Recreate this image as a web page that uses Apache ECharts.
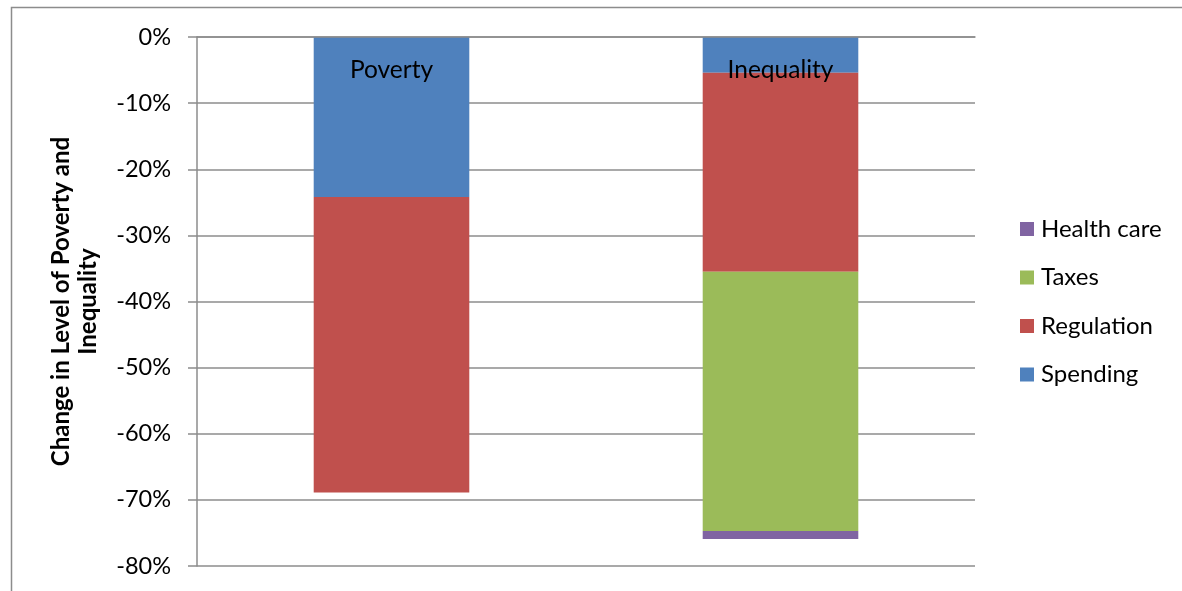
<!DOCTYPE html>
<html>
<head>
<meta charset="utf-8">
<script src="https://cdn.jsdelivr.net/npm/echarts@6/dist/echarts.min.js"></script>
<style>
html,body{margin:0;padding:0;background:#fff;}
#chart{width:1182px;height:591px;}
</style>
</head>
<body>
<div id="chart"></div>
<script>
// Data (values in %)
var categories = ['Poverty', 'Inequality'];
var spending   = [-24.2, -5.4];
var regulation = [-44.7, -30.1];
var taxes      = [0, -39.2];
var healthCare = [0, -1.2];
var yTicks = { min: -80, max: 0, interval: 10 };
var legendOrder = ['Health care', 'Taxes', 'Regulation', 'Spending'];

var FONT = 'Lato, "Open Sans", sans-serif';
var chart = echarts.init(document.getElementById('chart'));

function bar(name, data, color) {
  return {
    name: name, type: 'bar', stack: 'total', data: data,
    barWidth: '40%',
    itemStyle: { color: color },
    emphasis: { disabled: true }
  };
}

chart.setOption({
  animation: false,
  textStyle: { fontFamily: FONT },
  graphic: [{
    type: 'rect', silent: true,
    shape: { x: 11.5, y: 7.5, width: 1300, height: 700 },
    style: { fill: 'none', stroke: '#8c8c8c', lineWidth: 1.5 }
  }],
  grid: { left: 197, right: 207, top: 37, bottom: 25 },
  legend: {
    orient: 'vertical', left: 1020, top: 217, padding: 0,
    data: legendOrder,
    itemWidth: 14, itemHeight: 14, itemGap: 24.5,
    icon: 'rect',
    textStyle: { fontSize: 24, color: '#000', fontFamily: FONT, lineHeight: 24, padding: [0, 0, 0, 2] }
  },
  xAxis: {
    type: 'category', position: 'top', data: categories,
    axisLine: { onZero: false, lineStyle: { color: '#8c8c8c', width: 1.5 } },
    axisTick: { inside: true, length: 8, lineStyle: { color: '#8c8c8c', width: 1.5 } },
    axisLabel: { inside: true, margin: 21, fontSize: 24.5, color: '#000', fontFamily: FONT },
    z: 10
  },
  yAxis: {
    type: 'value', min: yTicks.min, max: yTicks.max, interval: yTicks.interval,
    name: 'Change in Level of Poverty and\nInequality',
    nameLocation: 'middle', nameGap: 122, nameRotate: 90,
    nameTextStyle: { fontSize: 24, fontWeight: 'bold', color: '#000', lineHeight: 27, verticalAlign: 'middle', align: 'center', fontFamily: FONT },
    axisLine: { show: true, lineStyle: { color: '#8c8c8c', width: 1.5 } },
    axisTick: { show: true, length: 9, lineStyle: { color: '#8c8c8c', width: 1.5 } },
    axisLabel: { fontSize: 23.5, color: '#000', margin: 26, fontFamily: FONT,
      formatter: function (v) { return Math.round(v) + '%'; } },
    splitLine: { lineStyle: { color: '#8c8c8c', width: 1.5 } }
  },
  series: [
    bar('Spending', spending, '#4F81BD'),
    bar('Regulation', regulation, '#C0504D'),
    bar('Taxes', taxes, '#9BBB59'),
    bar('Health care', healthCare, '#8064A2')
  ]
});
</script>
</body>
</html>
